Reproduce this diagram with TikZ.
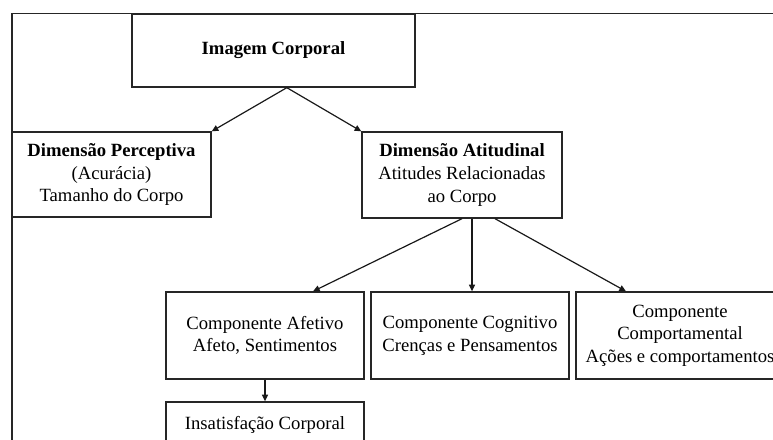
\documentclass[tikz,border=0pt]{standalone}
\usepackage{fontspec}
\setmainfont{Liberation Serif}
\usetikzlibrary{arrows.meta}
\begin{document}
\begin{tikzpicture}[x=0.75pt,y=-0.75pt,
  box/.style 2 args={draw=black!85, line width=1pt, rectangle, inner sep=0pt,
    align=center, minimum width=#1*0.75pt, minimum height=#2*0.75pt,
    font=\fontsize{14}{17}\selectfont},
  frame/.style={draw=black!85, line width=0.9pt},
  link/.style={draw=black!90, line width=0.9pt, -{Triangle[length=5pt,width=4.5pt]}}]

% page area
\useasboundingbox (0,0) rectangle (773,439);
\clip (0,0) rectangle (773,439);

% surrounding frame
\draw[frame] (12,13.5) rectangle (830,490);

% boxes
\node[box={283}{73}] (img) at (273.5,50.5) {\textbf{Imagem Corporal}};
\node[box={199}{85}] (per) at (111.5,174.5)
  {\textbf{Dimensão Perceptiva}\\(Acurácia)\\Tamanho do Corpo};
\node[box={200}{86}] (ati) at (462,175)
  {\textbf{Dimensão Atitudinal}\\Atitudes Relacionadas\\ao Corpo};
\node[box={198}{87}] (afe) at (265,335.5)
  {Componente Afetivo\\Afeto, Sentimentos};
\node[box={198}{87}] (cog) at (470,335.5)
  {Componente Cognitivo\\Crenças e Pensamentos};
\node[box={208}{87}] (com) at (680,335.5)
  {Componente\\Comportamental\\Ações e comportamentos};
\node[box={198}{46}] (ins) at (265,425) {Insatisfação Corporal};

% connectors
\coordinate (imgout) at ([xshift=10pt]img.south);
\draw[link] (imgout) -- (per.north east);
\draw[link] (imgout) -- (ati.north west);
\draw[link] (ati.south) -- ([xshift=36pt]afe.north);
\draw[link] ([xshift=7.5pt]ati.south) -- ([xshift=7.5pt]ati.south |- cog.north);
\draw[link] ([xshift=24.75pt]ati.south) -- ([xshift=-40.5pt]com.north);
\draw[link] (afe.south) -- (ins.north);
\end{tikzpicture}
\end{document}
